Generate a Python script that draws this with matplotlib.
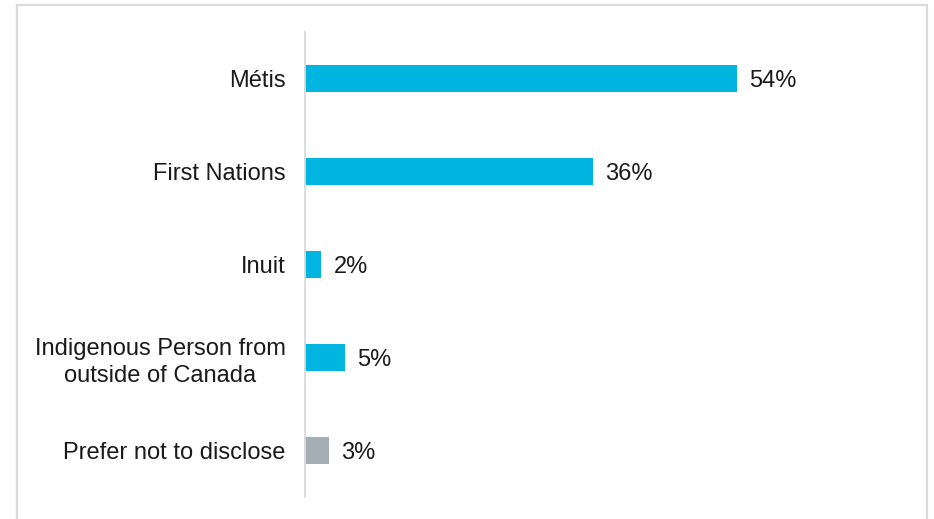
import matplotlib
matplotlib.use("Agg")
import matplotlib.pyplot as plt
from matplotlib.patches import Rectangle

categories = ["Métis", "First Nations", "Inuit",
              "Indigenous Person from\noutside of Canada", "Prefer not to disclose"]
values = [54, 36, 2, 5, 3]
labels = ["54%", "36%", "2%", "5%", "3%"]
colors = ["#00B5E0", "#00B5E0", "#00B5E0", "#00B5E0", "#A5AEB5"]

plt.rcParams["font.family"] = ["Liberation Sans", "DejaVu Sans"]

W, H = 934, 519
fig = plt.figure(figsize=(W / 100, H / 100), dpi=100)
fig.patch.set_facecolor("white")

# light outer frame
fig.add_artist(Rectangle((17 / W, -0.02), (927 - 17) / W, 1.02 - 5 / H,
                         transform=fig.transFigure, fill=False,
                         edgecolor="#D9D9D9", linewidth=1.6))

left, right = 305, 865
top, bottom = 32, 497
ax = fig.add_axes([left / W, 1 - bottom / H, (right - left) / W, (bottom - top) / H])

y = list(range(len(categories)))
ax.barh(y, values, height=0.30, color=colors, zorder=2)
ax.set_xlim(0, 70)
ax.set_ylim(len(categories) - 0.5, -0.5)

for yi, v, lab in zip(y, values, labels):
    ax.annotate(lab, (v, yi), xytext=(9, -1.8), textcoords="offset points",
                ha="left", va="center", fontsize=17, color="#1a1a1a")

ax.set_yticks(y)
ax.set_yticklabels(categories, fontsize=17, color="#1a1a1a", linespacing=1.32)
ax.tick_params(axis="y", length=0, pad=14)
ax.set_xticks([])
for s in ["top", "right", "bottom"]:
    ax.spines[s].set_visible(False)
ax.spines["left"].set_color("#D9D9D9")
ax.spines["left"].set_linewidth(1.3)
for t in ax.get_yticklabels():
    t.set_multialignment("center")

fig.savefig("out.png", dpi=100, facecolor="white")
